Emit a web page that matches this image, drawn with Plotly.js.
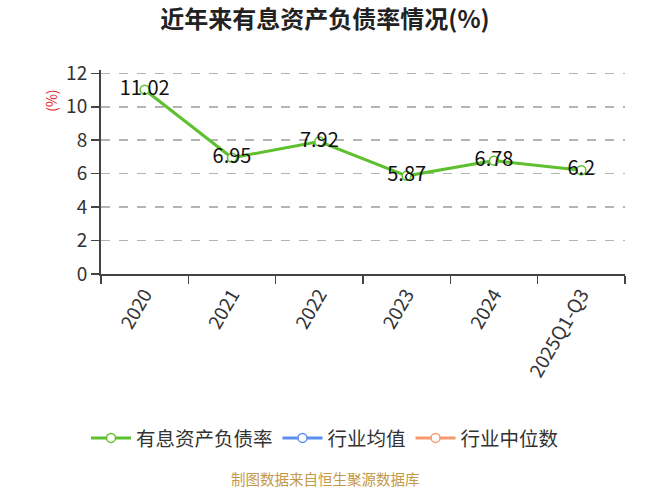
<!DOCTYPE html>
<html>
<head>
<meta charset="utf-8">
<script src="https://cdn.plot.ly/plotly-3.0.1.min.js"></script>
<style>
  body { margin: 0; background: #fff; }
  #graph { width: 650px; height: 488px; }
</style>
</head>
<body>
<div id="graph"></div>
<script>
var years = ['2020', '2021', '2022', '2023', '2024', '2025Q1-Q3'];
var debtRatio = [11.02, 6.95, 7.92, 5.87, 6.78, 6.2];
var industryAvg = [null, null, null, null, null, null];
var industryMid = [null, null, null, null, null, null];

var fontFamily = '"Noto Sans CJK SC", "Noto Sans", sans-serif';

function lineTrace(y, name, color, withText) {
    var tr = {
        x: years,
        y: y,
        mode: withText ? 'lines+markers+text' : 'lines+markers',
        name: name,
        line: { color: color, width: 3 },
        marker: {
            color: '#ffffff',
            size: 9,
            line: { color: color, width: 1.5 }
        },
        cliponaxis: false,
        hoverinfo: 'x+y'
    };
    if (withText) {
        tr.text = y.map(function (v) { return String(v); });
        tr.textposition = 'middle center';
        tr.textfont = { family: fontFamily, size: 20, color: '#111111' };
    }
    return tr;
}

var graphData = [
    lineTrace(debtRatio, '有息资产负债率', '#5ec02e', true),
    lineTrace(industryAvg, '行业均值', '#5b8ff0', false),
    lineTrace(industryMid, '行业中位数', '#f59a6e', false)
];

// plot area spans x 101..625, so the page centre (325) sits at this paper x
var pageMid = (325 - 101) / 524;

var layout = {
    width: 650,
    height: 488,
    margin: { l: 101, r: 25, t: 70, b: 214 },
    paper_bgcolor: '#ffffff',
    plot_bgcolor: '#ffffff',
    font: { family: fontFamily, color: '#333333' },
    title: {
        text: '<b>近年来有息资产负债率情况(%)</b>',
        font: { family: fontFamily, size: 24, color: '#222222' },
        x: 0.5,
        xanchor: 'center',
        y: 0.96,
        yanchor: 'middle'
    },
    xaxis: {
        type: 'category',
        range: [-0.5, 5.5],
        tickson: 'boundaries',
        ticks: 'outside',
        ticklen: 8,
        tickwidth: 1.5,
        tickcolor: '#444444',
        showline: true,
        linecolor: '#444444',
        linewidth: 2,
        showgrid: false,
        tickangle: -60,
        tickfont: { size: 19, color: '#333333' },
        fixedrange: true
    },
    yaxis: {
        range: [0, 12.2],
        tickvals: [0, 2, 4, 6, 8, 10, 12],
        ticks: 'outside',
        ticklen: 8,
        tickwidth: 1.5,
        tickcolor: '#444444',
        showline: true,
        linecolor: '#444444',
        linewidth: 2,
        gridcolor: '#b4b4b4',
        griddash: 'dash',
        gridwidth: 1.5,
        zeroline: false,
        tickfont: { size: 19, color: '#333333' },
        fixedrange: true
    },
    showlegend: true,
    legend: {
        orientation: 'h',
        x: pageMid,
        xanchor: 'center',
        y: -0.805,
        yanchor: 'middle',
        font: { size: 19.5, color: '#333333' },
        itemwidth: 40
    },
    annotations: [
        {
            text: '(%)',
            xref: 'paper', yref: 'paper',
            x: -0.097, y: 0.85,
            xanchor: 'center', yanchor: 'middle',
            textangle: -90,
            showarrow: false,
            font: { size: 14, color: '#e02020' }
        },
        {
            text: '制图数据来自恒生聚源数据库',
            xref: 'paper', yref: 'paper',
            x: pageMid, y: -1.0,
            xanchor: 'center', yanchor: 'middle',
            showarrow: false,
            font: { size: 14.5, color: '#c4994a' }
        }
    ]
};

Plotly.newPlot('graph', graphData, layout, { displayModeBar: false, staticPlot: true });
</script>
</body>
</html>
